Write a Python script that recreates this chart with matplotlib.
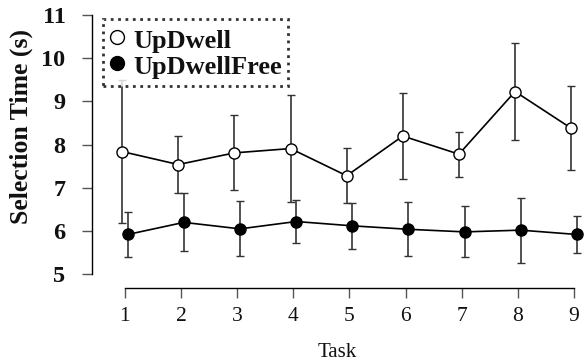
import matplotlib
matplotlib.use("Agg")
import matplotlib.pyplot as plt
from matplotlib.lines import Line2D
import numpy as np

tasks = [1, 2, 3, 4, 5, 6, 7, 8, 9]
updwell_mean = [7.84, 7.54, 7.81, 7.91, 7.28, 8.20, 7.78, 9.23, 8.38]
updwell_err = [1.66, 0.67, 0.87, 1.23, 0.64, 1.00, 0.52, 1.13, 0.97]
free_mean = [5.92, 6.20, 6.05, 6.22, 6.12, 6.04, 5.98, 6.02, 5.92]
free_err = [0.53, 0.67, 0.64, 0.50, 0.53, 0.63, 0.59, 0.75, 0.43]
yticks = [5, 6, 7, 8, 9, 10, 11]

plt.rcParams['font.family'] = ['Liberation Serif', 'DejaVu Serif']

fig = plt.figure(figsize=(5.85, 3.62), dpi=100)
ax = fig.add_axes([0.157, 0.2044, 0.9956 - 0.157, 0.982 - 0.2044])
ax.set_xlim(0.41, 9.15)
ax.set_ylim(4.68, 11.2)

x = np.array(tasks, dtype=float)
off = 0.05
ax.errorbar(x - off, updwell_mean, yerr=updwell_err, fmt='-o', color='black',
            mfc='white', mec='black', ms=8, lw=1.2, mew=1.0,
            ecolor='#333333', elinewidth=1.2, capsize=3, capthick=1.2,
            zorder=3, clip_on=False)
ax.errorbar(x + off, free_mean, yerr=free_err, fmt='-o', color='black',
            mfc='black', mec='black', ms=8, lw=1.2, mew=1.0,
            ecolor='#333333', elinewidth=1.2, capsize=3, capthick=1.2,
            zorder=3, clip_on=False)

for s in ['top', 'right']:
    ax.spines[s].set_visible(False)
ax.spines['left'].set_bounds(5, 11)
ax.spines['bottom'].set_bounds(1, 9)
ax.spines['left'].set_linewidth(1.0)
ax.spines['bottom'].set_linewidth(1.0)

ax.set_xticks(tasks)
ax.set_xticklabels([str(t) for t in tasks])
ax.set_yticks(yticks)
ax.set_yticklabels([str(t) for t in yticks], fontweight='bold')
ax.tick_params(axis='x', direction='out', length=7, width=1.0, labelsize=15.5, pad=7, color='#555555', labelcolor='#111111')
ax.tick_params(axis='y', direction='out', length=7, width=1.0, labelsize=17.5, pad=12, color='#555555', labelcolor='#111111')

ax.set_xlabel('Task', fontsize=15, labelpad=12, color='#111111')
ax.set_ylabel('Selection Time (s)', fontsize=18.5, fontweight='bold', color='#111111')
ax.yaxis.set_label_coords(-0.12, 0.575)

handles = [
    Line2D([], [], ls='none', marker='o', ms=10, mfc='white', mec='black', mew=1.0),
    Line2D([], [], ls='none', marker='o', ms=10, mfc='black', mec='black', mew=1.0),
]
leg = ax.legend(handles, ['UpDwell', 'UpDwellFree'], loc='upper left',
                bbox_to_anchor=(0.0224, 0.955), frameon=True,
                prop={'weight': 'bold', 'size': 19},
                handlelength=0.6, handleheight=1.12, handletextpad=0.3,
                borderpad=0.25, labelspacing=0.0, borderaxespad=0.0,
                fancybox=False)
leg.get_frame().set_edgecolor('black')
leg.get_frame().set_linestyle(':')
leg.get_frame().set_linewidth(2.0)
for t in leg.get_texts():
    t.set_color('#111111')

fig.savefig('out.png', dpi=100)
